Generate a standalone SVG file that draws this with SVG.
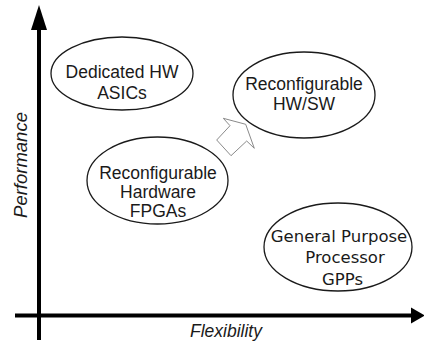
<svg xmlns="http://www.w3.org/2000/svg" width="424" height="343" viewBox="0 0 424 343">
<style>
.bg{fill:#ffffff}
.node ellipse{fill:#ffffff;stroke:#1a1a1a;stroke-width:1.3}
.lbl{font-family:"Liberation Sans",Arial,sans-serif;font-size:17.5px;fill:#1a1a1a;text-anchor:middle}
.lbl2{font-family:"DejaVu Sans",sans-serif;font-size:16.5px;fill:#1a1a1a;text-anchor:middle}
.axis{stroke:#000;stroke-width:4;fill:none}
.ax-lbl{font-family:"Liberation Sans",Arial,sans-serif;font-style:italic;font-size:17.5px;fill:#1a1a1a;text-anchor:middle}
.blk{fill:#ffffff;stroke:#8a8a8a;stroke-width:1}
</style>
<rect class="bg" x="0" y="0" width="424" height="343"/>
<g id="connectors">
  <line class="axis" x1="39" y1="28" x2="39" y2="340"/>
  <polygon points="39,5 47,30 31,30" fill="#000"/>
  <line class="axis" x1="15" y1="315.5" x2="412" y2="315.5"/>
  <polygon points="425,315.5 411,307.5 411,323.5" fill="#000"/>
  <polygon class="blk" points="245.7,124.3 254.3,148.3 246.7,141 231,155.7 216.7,140 230,125.7 223.3,118.3"/>
</g>
<g id="axis-labels">
  <text class="ax-lbl" style="font-size:18.5px" transform="translate(27,165) rotate(-90)" x="0" y="0">Performance</text>
  <text class="ax-lbl" x="226" y="337">Flexibility</text>
</g>
<g id="node-asic" class="node">
  <ellipse cx="122" cy="73.5" rx="71" ry="36.5"/>
  <text class="lbl" x="122" y="78">Dedicated HW</text>
  <text class="lbl" x="122" y="99">ASICs</text>
</g>
<g id="node-hwsw" class="node">
  <ellipse cx="304" cy="95" rx="71" ry="43"/>
  <text class="lbl" x="304" y="90">Reconfigurable</text>
  <text class="lbl" x="304" y="110">HW/SW</text>
</g>
<g id="node-fpga" class="node">
  <ellipse cx="157.5" cy="180.5" rx="70.5" ry="43.5"/>
  <text class="lbl" x="158" y="179">Reconfigurable</text>
  <text class="lbl" x="158" y="198">Hardware</text>
  <text class="lbl" x="158" y="217">FPGAs</text>
</g>
<g id="node-gpp" class="node">
  <ellipse cx="338" cy="247" rx="74" ry="44"/>
  <text class="lbl2" x="339" y="242">General Purpose</text>
  <text class="lbl2" x="345" y="263">Processor</text>
  <text class="lbl2" x="342.5" y="285">GPPs</text>
</g>
</svg>
